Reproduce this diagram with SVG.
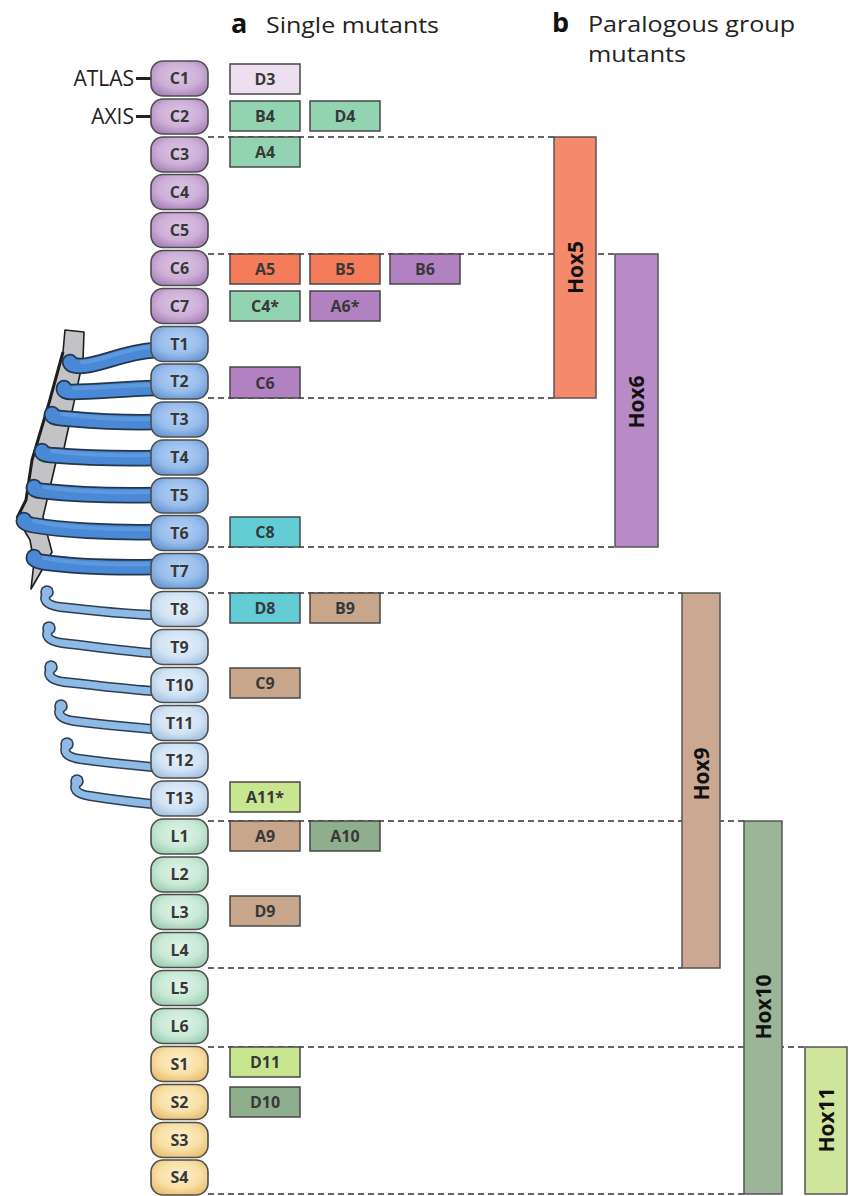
<svg xmlns="http://www.w3.org/2000/svg" width="855" height="1196" viewBox="0 0 855 1196">
  <defs>
    <!-- vertebra body shading, one per spinal region -->
    <radialGradient id="vC" cx="0.5" cy="0.42" r="0.62">
      <stop offset="0" stop-color="#dcc5e4"/>
      <stop offset="0.6" stop-color="#cdafd8"/>
      <stop offset="1" stop-color="#a983ba"/>
    </radialGradient>
    <radialGradient id="vT" cx="0.5" cy="0.42" r="0.62">
      <stop offset="0" stop-color="#b4d1f3"/>
      <stop offset="0.6" stop-color="#98bdec"/>
      <stop offset="1" stop-color="#6a97d2"/>
    </radialGradient>
    <radialGradient id="vF" cx="0.5" cy="0.42" r="0.62">
      <stop offset="0" stop-color="#e6f0fa"/>
      <stop offset="0.6" stop-color="#d2e3f4"/>
      <stop offset="1" stop-color="#a6c3e2"/>
    </radialGradient>
    <radialGradient id="vL" cx="0.5" cy="0.42" r="0.62">
      <stop offset="0" stop-color="#e0f3e8"/>
      <stop offset="0.6" stop-color="#c9e9d6"/>
      <stop offset="1" stop-color="#9fcfb4"/>
    </radialGradient>
    <radialGradient id="vS" cx="0.5" cy="0.42" r="0.62">
      <stop offset="0" stop-color="#fdf0cc"/>
      <stop offset="0.6" stop-color="#f8e0a6"/>
      <stop offset="1" stop-color="#e9c072"/>
    </radialGradient>
  </defs>
  <style>
    .vt { stroke: #4d4d4d; stroke-width: 1.6; }
    .lbl { font-family: "Open Sans", "Liberation Sans", sans-serif; font-weight: 700; font-size: 16px; fill: #383838; text-anchor: middle; }
    .gb { stroke: #474747; stroke-width: 1.5; }
    .dash { stroke: #333; stroke-width: 1.5; stroke-dasharray: 6 4; fill: none; }
    .hox { stroke: #555; stroke-width: 1.5; }
    .hoxt { font-family: "Open Sans", "Liberation Sans", sans-serif; font-weight: 700; font-size: 21px; fill: #111; text-anchor: middle; }
    .head { font-family: "Open Sans", "Liberation Sans", sans-serif; font-size: 22px; fill: #222; }
    .headb { font-family: "Open Sans", "Liberation Sans", sans-serif; font-size: 27px; font-weight: 700; fill: #111; }
    .side { font-family: "Open Sans", "Liberation Sans", sans-serif; font-size: 21px; fill: #222; text-anchor: end; }
    .ribo { fill: none; stroke: #24364d; stroke-width: 16.5; stroke-linecap: round; }
    .ribi { fill: none; stroke: #4a89d5; stroke-width: 13; stroke-linecap: round; }
    .ribh { fill: none; stroke: #6ba5e6; stroke-width: 4; stroke-linecap: round; opacity: 0.55; }
    .fro { fill: none; stroke: #2e3e52; stroke-width: 10; stroke-linecap: round; }
    .fri { fill: none; stroke: #8ebbe5; stroke-width: 7; stroke-linecap: round; }
    .c-pink { fill: #eedff0; }
    .c-green { fill: #92d3b2; }
    .c-orange { fill: #f47c5b; }
    .c-purple { fill: #b281c2; }
    .c-cyan { fill: #63cdd6; }
    .c-tan { fill: #c7a68c; }
    .c-lime { fill: #c8e690; }
    .c-sage { fill: #8fae8e; }
  </style>

  <rect width="855" height="1196" fill="#ffffff"/>

  <!-- panel headings -->
  <g id="headings">
    <text class="headb" x="231" y="33">a</text>
    <text class="head" x="266" y="33" textLength="173" lengthAdjust="spacingAndGlyphs">Single mutants</text>
    <text class="headb" x="552" y="32">b</text>
    <text class="head" x="588" y="32" textLength="207" lengthAdjust="spacingAndGlyphs">Paralogous group</text>
    <text class="head" x="588" y="62" textLength="98" lengthAdjust="spacingAndGlyphs">mutants</text>
  </g>

  <!-- dashed boundary lines from the spine to the paralogous-group bars -->
  <g id="connectors">
    <line class="dash" x1="208" y1="137" x2="555" y2="137"/>
    <line class="dash" x1="208" y1="254" x2="615" y2="254"/>
    <line class="dash" x1="208" y1="398" x2="555" y2="398"/>
    <line class="dash" x1="208" y1="547" x2="615" y2="547"/>
    <line class="dash" x1="208" y1="593" x2="682" y2="593"/>
    <line class="dash" x1="208" y1="821" x2="744" y2="821"/>
    <line class="dash" x1="208" y1="968" x2="682" y2="968"/>
    <line class="dash" x1="208" y1="1047" x2="805" y2="1047"/>
    <line class="dash" x1="208" y1="1194" x2="744" y2="1194"/>
    <line x1="136" y1="78.5" x2="151" y2="78.5" stroke="#222" stroke-width="3"/>
    <line x1="136" y1="116.5" x2="151" y2="116.5" stroke="#222" stroke-width="3"/>
  </g>

  <g id="side-labels">
    <text class="side" x="134" y="86">ATLAS</text>
    <text class="side" x="134" y="124">AXIS</text>
  </g>

  <!-- rib cage: sternum, true ribs T1-T7, floating ribs T8-T13 -->
  <g id="ribcage">
    <path d="M65,330 L84,332 L83,360 L73,407 L63,453 L56,462 L47,500 L43,517 L48,537 L52,552 L42,570 L31,589 L34,562 L30,540 L17,518 L26,500 L32,460 L49,403 L63,352 Z" fill="#c3c3c5" stroke="#1e1e1e" stroke-width="1.6" stroke-linejoin="round"/>
    <path d="M63,352 L49,403 L32,460 L26,500 L17,518" fill="none" stroke="#1e1e1e" stroke-width="3"/>

    <g id="rib-T1"><path class="ribo" d="M156,350 C122,352 100,366 80,366 Q71,366 70,362"/><path class="ribi" d="M156,350 C122,352 100,366 80,366 Q71,366 70,362"/><path class="ribh" d="M150,347 C122,349 100,362 82,362"/></g>
    <g id="rib-T2"><path class="ribo" d="M156,388 C120,389 95,392 72,392 Q63,392 64,388"/><path class="ribi" d="M156,388 C120,389 95,392 72,392 Q63,392 64,388"/><path class="ribh" d="M150,385 C120,386 95,388 74,388"/></g>
    <g id="rib-T3"><path class="ribo" d="M156,422 C110,423 85,420 60,418 Q51,417 52,414"/><path class="ribi" d="M156,422 C110,423 85,420 60,418 Q51,417 52,414"/><path class="ribh" d="M150,419 C110,420 85,417 62,414"/></g>
    <g id="rib-T4"><path class="ribo" d="M156,458 C110,459 75,457 50,455 Q41,454 42,451"/><path class="ribi" d="M156,458 C110,459 75,457 50,455 Q41,454 42,451"/><path class="ribh" d="M150,455 C110,456 75,454 52,451"/></g>
    <g id="rib-T5"><path class="ribo" d="M156,495 C110,496 70,494 42,491 Q33,490 34,487"/><path class="ribi" d="M156,495 C110,496 70,494 42,491 Q33,490 34,487"/><path class="ribh" d="M150,492 C110,493 70,491 44,487"/></g>
    <g id="rib-T6"><path class="ribo" d="M156,532 C110,533 60,530 32,525 Q23,523 24,520"/><path class="ribi" d="M156,532 C110,533 60,530 32,525 Q23,523 24,520"/><path class="ribh" d="M150,529 C110,530 60,527 34,521"/></g>
    <g id="rib-T7"><path class="ribo" d="M156,567 C110,568 70,566 42,562 Q33,560 34,557"/><path class="ribi" d="M156,567 C110,568 70,566 42,562 Q33,560 34,557"/><path class="ribh" d="M150,564 C110,565 70,563 44,558"/></g>

    <g id="rib-T8"><path class="fro" d="M47,593 C43,599 45,605 60,607 C95,611 125,614 152,615"/><circle cx="47" cy="592" r="6.8" fill="#2e3e52"/><path class="fri" d="M47,593 C43,599 45,605 60,607 C95,611 125,614 152,615"/><circle cx="47" cy="592" r="5.2" fill="#8ebbe5"/></g>
    <g id="rib-T9"><path class="fro" d="M49,629 C45,635 47,641 62,643 C97,647 125,651 152,653"/><circle cx="49" cy="628" r="6.8" fill="#2e3e52"/><path class="fri" d="M49,629 C45,635 47,641 62,643 C97,647 125,651 152,653"/><circle cx="49" cy="628" r="5.2" fill="#8ebbe5"/></g>
    <g id="rib-T10"><path class="fro" d="M51,668 C47,674 49,680 64,682 C99,686 125,689 152,691"/><circle cx="51" cy="667" r="6.8" fill="#2e3e52"/><path class="fri" d="M51,668 C47,674 49,680 64,682 C99,686 125,689 152,691"/><circle cx="51" cy="667" r="5.2" fill="#8ebbe5"/></g>
    <g id="rib-T11"><path class="fro" d="M61,707 C57,713 59,719 74,721 C105,725 128,727 152,729"/><circle cx="61" cy="706" r="6.8" fill="#2e3e52"/><path class="fri" d="M61,707 C57,713 59,719 74,721 C105,725 128,727 152,729"/><circle cx="61" cy="706" r="5.2" fill="#8ebbe5"/></g>
    <g id="rib-T12"><path class="fro" d="M67,745 C63,751 65,757 80,759 C109,763 130,765 152,767"/><circle cx="67" cy="744" r="6.8" fill="#2e3e52"/><path class="fri" d="M67,745 C63,751 65,757 80,759 C109,763 130,765 152,767"/><circle cx="67" cy="744" r="5.2" fill="#8ebbe5"/></g>
    <g id="rib-T13"><path class="fro" d="M77,782 C73,788 75,794 90,796 C115,800 133,802 152,804"/><circle cx="77" cy="781" r="6.8" fill="#2e3e52"/><path class="fri" d="M77,782 C73,788 75,794 90,796 C115,800 133,802 152,804"/><circle cx="77" cy="781" r="5.2" fill="#8ebbe5"/></g>
  </g>

  <!-- vertebral column -->
  <g id="spine">
    <g id="v-C1"><rect class="vt" x="151" y="61" width="57" height="35" rx="12" fill="url(#vC)"/><text class="lbl" x="179.5" y="84">C1</text></g>
    <g id="v-C2"><rect class="vt" x="151" y="99" width="57" height="35" rx="12" fill="url(#vC)"/><text class="lbl" x="179.5" y="122">C2</text></g>
    <g id="v-C3"><rect class="vt" x="151" y="137" width="57" height="35" rx="12" fill="url(#vC)"/><text class="lbl" x="179.5" y="160">C3</text></g>
    <g id="v-C4"><rect class="vt" x="151" y="174.5" width="57" height="35" rx="12" fill="url(#vC)"/><text class="lbl" x="179.5" y="197.5">C4</text></g>
    <g id="v-C5"><rect class="vt" x="151" y="212.5" width="57" height="35" rx="12" fill="url(#vC)"/><text class="lbl" x="179.5" y="235.5">C5</text></g>
    <g id="v-C6"><rect class="vt" x="151" y="250.5" width="57" height="35" rx="12" fill="url(#vC)"/><text class="lbl" x="179.5" y="273.5">C6</text></g>
    <g id="v-C7"><rect class="vt" x="151" y="288.5" width="57" height="35" rx="12" fill="url(#vC)"/><text class="lbl" x="179.5" y="311.5">C7</text></g>
    <g id="v-T1"><rect class="vt" x="151" y="326.5" width="57" height="35" rx="12" fill="url(#vT)"/><text class="lbl" x="179.5" y="349.5">T1</text></g>
    <g id="v-T2"><rect class="vt" x="151" y="364" width="57" height="35" rx="12" fill="url(#vT)"/><text class="lbl" x="179.5" y="387">T2</text></g>
    <g id="v-T3"><rect class="vt" x="151" y="402" width="57" height="35" rx="12" fill="url(#vT)"/><text class="lbl" x="179.5" y="425">T3</text></g>
    <g id="v-T4"><rect class="vt" x="151" y="440" width="57" height="35" rx="12" fill="url(#vT)"/><text class="lbl" x="179.5" y="463">T4</text></g>
    <g id="v-T5"><rect class="vt" x="151" y="478" width="57" height="35" rx="12" fill="url(#vT)"/><text class="lbl" x="179.5" y="501">T5</text></g>
    <g id="v-T6"><rect class="vt" x="151" y="515.5" width="57" height="35" rx="12" fill="url(#vT)"/><text class="lbl" x="179.5" y="538.5">T6</text></g>
    <g id="v-T7"><rect class="vt" x="151" y="553.5" width="57" height="35" rx="12" fill="url(#vT)"/><text class="lbl" x="179.5" y="576.5">T7</text></g>
    <g id="v-T8"><rect class="vt" x="151" y="591.5" width="57" height="35" rx="12" fill="url(#vF)"/><text class="lbl" x="179.5" y="614.5">T8</text></g>
    <g id="v-T9"><rect class="vt" x="151" y="629.5" width="57" height="35" rx="12" fill="url(#vF)"/><text class="lbl" x="179.5" y="652.5">T9</text></g>
    <g id="v-T10"><rect class="vt" x="151" y="667.5" width="57" height="35" rx="12" fill="url(#vF)"/><text class="lbl" x="179.5" y="690.5">T10</text></g>
    <g id="v-T11"><rect class="vt" x="151" y="705.5" width="57" height="35" rx="12" fill="url(#vF)"/><text class="lbl" x="179.5" y="728.5">T11</text></g>
    <g id="v-T12"><rect class="vt" x="151" y="743" width="57" height="35" rx="12" fill="url(#vF)"/><text class="lbl" x="179.5" y="766">T12</text></g>
    <g id="v-T13"><rect class="vt" x="151" y="781" width="57" height="35" rx="12" fill="url(#vF)"/><text class="lbl" x="179.5" y="804">T13</text></g>
    <g id="v-L1"><rect class="vt" x="151" y="819" width="57" height="35" rx="12" fill="url(#vL)"/><text class="lbl" x="179.5" y="842">L1</text></g>
    <g id="v-L2"><rect class="vt" x="151" y="857" width="57" height="35" rx="12" fill="url(#vL)"/><text class="lbl" x="179.5" y="880">L2</text></g>
    <g id="v-L3"><rect class="vt" x="151" y="894.5" width="57" height="35" rx="12" fill="url(#vL)"/><text class="lbl" x="179.5" y="917.5">L3</text></g>
    <g id="v-L4"><rect class="vt" x="151" y="932.5" width="57" height="35" rx="12" fill="url(#vL)"/><text class="lbl" x="179.5" y="955.5">L4</text></g>
    <g id="v-L5"><rect class="vt" x="151" y="970.5" width="57" height="35" rx="12" fill="url(#vL)"/><text class="lbl" x="179.5" y="993.5">L5</text></g>
    <g id="v-L6"><rect class="vt" x="151" y="1008.5" width="57" height="35" rx="12" fill="url(#vL)"/><text class="lbl" x="179.5" y="1031.5">L6</text></g>
    <g id="v-S1"><rect class="vt" x="151" y="1046.5" width="57" height="35" rx="12" fill="url(#vS)"/><text class="lbl" x="179.5" y="1069.5">S1</text></g>
    <g id="v-S2"><rect class="vt" x="151" y="1084.5" width="57" height="35" rx="12" fill="url(#vS)"/><text class="lbl" x="179.5" y="1107.5">S2</text></g>
    <g id="v-S3"><rect class="vt" x="151" y="1122.5" width="57" height="35" rx="12" fill="url(#vS)"/><text class="lbl" x="179.5" y="1145.5">S3</text></g>
    <g id="v-S4"><rect class="vt" x="151" y="1160" width="57" height="35" rx="12" fill="url(#vS)"/><text class="lbl" x="179.5" y="1183">S4</text></g>
  </g>

  <!-- single-mutant genes, placed on the vertebra they transform -->
  <g id="single-mutants">
    <g id="m-D3"><rect class="gb c-pink" x="230" y="64" width="70" height="30"/><text class="lbl" x="265" y="85">D3</text></g>
    <g id="m-B4"><rect class="gb c-green" x="230" y="101" width="70" height="30"/><text class="lbl" x="265" y="122">B4</text></g>
    <g id="m-D4"><rect class="gb c-green" x="310" y="101" width="70" height="30"/><text class="lbl" x="345" y="122">D4</text></g>
    <g id="m-A4"><rect class="gb c-green" x="230" y="137" width="70" height="30"/><text class="lbl" x="265" y="158">A4</text></g>
    <g id="m-A5"><rect class="gb c-orange" x="230" y="254" width="70" height="30"/><text class="lbl" x="265" y="275">A5</text></g>
    <g id="m-B5"><rect class="gb c-orange" x="310" y="254" width="70" height="30"/><text class="lbl" x="345" y="275">B5</text></g>
    <g id="m-B6"><rect class="gb c-purple" x="390" y="254" width="70" height="30"/><text class="lbl" x="425" y="275">B6</text></g>
    <g id="m-C4"><rect class="gb c-green" x="230" y="291" width="70" height="30"/><text class="lbl" x="265" y="312">C4*</text></g>
    <g id="m-A6"><rect class="gb c-purple" x="310" y="291" width="70" height="30"/><text class="lbl" x="345" y="312">A6*</text></g>
    <g id="m-C6"><rect class="gb c-purple" x="230" y="367" width="70" height="31"/><text class="lbl" x="265" y="388.5">C6</text></g>
    <g id="m-C8"><rect class="gb c-cyan" x="230" y="517" width="70" height="30"/><text class="lbl" x="265" y="538">C8</text></g>
    <g id="m-D8"><rect class="gb c-cyan" x="230" y="593" width="70" height="30"/><text class="lbl" x="265" y="614">D8</text></g>
    <g id="m-B9"><rect class="gb c-tan" x="310" y="593" width="70" height="30"/><text class="lbl" x="345" y="614">B9</text></g>
    <g id="m-C9"><rect class="gb c-tan" x="230" y="668" width="70" height="30"/><text class="lbl" x="265" y="689">C9</text></g>
    <g id="m-A11"><rect class="gb c-lime" x="230" y="782" width="70" height="30"/><text class="lbl" x="265" y="803">A11*</text></g>
    <g id="m-A9"><rect class="gb c-tan" x="230" y="821" width="70" height="30"/><text class="lbl" x="265" y="842">A9</text></g>
    <g id="m-A10"><rect class="gb c-sage" x="310" y="821" width="70" height="30"/><text class="lbl" x="345" y="842">A10</text></g>
    <g id="m-D9"><rect class="gb c-tan" x="230" y="896" width="70" height="30"/><text class="lbl" x="265" y="917">D9</text></g>
    <g id="m-D11"><rect class="gb c-lime" x="230" y="1047" width="70" height="30"/><text class="lbl" x="265" y="1068">D11</text></g>
    <g id="m-D10"><rect class="gb c-sage" x="230" y="1087" width="70" height="30"/><text class="lbl" x="265" y="1108">D10</text></g>
  </g>

  <!-- paralogous group mutant ranges -->
  <g id="paralogous-groups">
    <g id="hox5"><rect class="hox" x="554" y="137" width="42" height="261" fill="#f48a6b"/><text class="hoxt" transform="translate(575,267.5) rotate(-90)" dy="7.5">Hox5</text></g>
    <g id="hox6"><rect class="hox" x="615" y="254" width="43" height="293" fill="#b98bc6"/><text class="hoxt" transform="translate(636.5,402) rotate(-90)" dy="7.5">Hox6</text></g>
    <g id="hox9"><rect class="hox" x="682" y="593" width="38" height="375" fill="#cba891"/><text class="hoxt" transform="translate(701,774) rotate(-90)" dy="7.5">Hox9</text></g>
    <g id="hox10"><rect class="hox" x="744" y="821" width="38" height="373" fill="#9cb598"/><text class="hoxt" transform="translate(763,1007) rotate(-90)" dy="7.5">Hox10</text></g>
    <g id="hox11"><rect class="hox" x="805" y="1047" width="42" height="147" fill="#cfe59b"/><text class="hoxt" transform="translate(826,1120) rotate(-90)" dy="7.5">Hox11</text></g>
  </g>
</svg>
